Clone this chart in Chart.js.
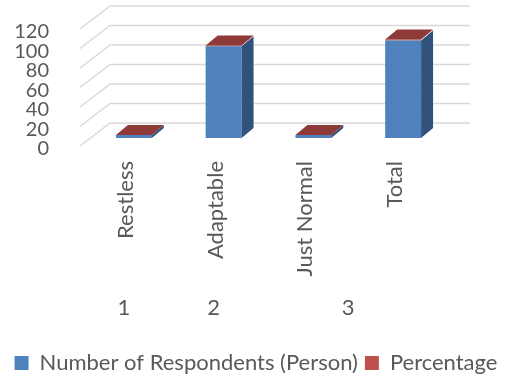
<!DOCTYPE html>
<html>
<head>
<meta charset="utf-8">
<script src="https://cdn.jsdelivr.net/npm/chart.js@4.4.0/dist/chart.umd.min.js"></script>
<style>
  html, body { margin: 0; padding: 0; background: #fff; }
  #wrap { width: 512px; height: 380px; }
</style>
</head>
<body>
<div id="wrap"><canvas id="myChart"></canvas></div>
<script>
const categories = ["Restless", "Adaptable", "Just Normal", "Total"];
const respondents = [3, 94, 3, 100];
const percentage = [0.03, 0.94, 0.03, 1];
const groupLabels = ["1", "2", "3"];
const groupPositions = [0, 1, 2.5];

const textColor = "#595959";
const fontFamily = "Lato, 'Open Sans', sans-serif";

// fake 3D: slanted grid + side/top faces of the columns
const fake3d = {
  id: "fake3d",
  beforeDatasetsDraw(chart) {
    const { ctx, chartArea, scales } = chart;
    ctx.save();
    ctx.strokeStyle = "#D9D9D9";
    ctx.lineWidth = 1.5;
    scales.y.ticks.forEach((t) => {
      const y0 = scales.y.getPixelForValue(t.value);
      ctx.beginPath();
      ctx.moveTo(chartArea.left - 9, y0 + 8);
      ctx.lineTo(chartArea.left + 21, y0 - 15);
      ctx.lineTo(chartArea.right + 22, y0 - 15);
      ctx.stroke();
    });
    ctx.restore();
  },
  afterDatasetsDraw(chart) {
    const { ctx } = chart;
    const blue = chart.getDatasetMeta(0).data;
    const red = chart.getDatasetMeta(1).data;
    const dx = 12, dy = 10;
    ctx.save();
    blue.forEach((bar, i) => {
      const top = red[i].y;
      const base = bar.base;
      const xl = bar.x - bar.width / 2;
      const xr = bar.x + bar.width / 2;
      // side face
      ctx.fillStyle = "#31527C";
      ctx.beginPath();
      ctx.moveTo(xr, bar.y);
      ctx.lineTo(xr + dx, bar.y - dy);
      ctx.lineTo(xr + dx, base - dy);
      ctx.lineTo(xr, base);
      ctx.closePath();
      ctx.fill();
      // top face
      ctx.fillStyle = "#8E3A38";
      ctx.beginPath();
      ctx.moveTo(xl, top);
      ctx.lineTo(xr, top);
      ctx.lineTo(xr + dx, top - dy);
      ctx.lineTo(xl + dx, top - dy);
      ctx.closePath();
      ctx.fill();
    });
    ctx.restore();
  },
};

new Chart(document.getElementById("myChart"), {
  type: "bar",
  data: {
    labels: categories,
    datasets: [
      {
        label: "Number of Respondents (Person)",
        data: respondents,
        backgroundColor: "#4F81BD",
        barPercentage: 0.4,
        categoryPercentage: 1,
      },
      {
        label: "Percentage",
        data: percentage,
        backgroundColor: "#C0504D",
        barPercentage: 0.4,
        categoryPercentage: 1,
      },
    ],
  },
  options: {
    responsive: true,
    maintainAspectRatio: false,
    animation: false,
    layout: { padding: { left: 0, right: 0, top: 0, bottom: -4 } },
    plugins: {
      tooltip: { enabled: false },
      legend: {
        position: "bottom",
        labels: {
          color: textColor,
          font: { family: fontFamily, size: 22 },
          boxWidth: 14,
          boxHeight: 14,
          padding: 7,
        },
      },
    },
    scales: {
      x: {
        stacked: true,
        grid: { display: false },
        border: { display: false },
        afterFit(scale) {
          scale.height = 139;
        },
        ticks: {
          color: textColor,
          font: { family: fontFamily, size: 22 },
          minRotation: 90,
          maxRotation: 90,
          autoSkip: false,
          padding: 15,
          labelOffset: -8,
        },
      },
      x2: {
        type: "linear",
        position: "bottom",
        offset: false,
        min: -0.5,
        max: 3.5,
        grid: { display: false },
        border: { display: false },
        afterBuildTicks(scale) {
          scale.ticks = groupPositions.map((v) => ({ value: v }));
        },
        afterFit(scale) {
          scale.height = 68;
        },
        ticks: {
          color: textColor,
          font: { family: fontFamily, size: 22 },
          padding: 10,
          labelOffset: -10,
          autoSkip: false,
          maxRotation: 0,
          callback: (value) => groupLabels[groupPositions.indexOf(value)],
        },
      },
      y: {
        stacked: true,
        min: 0,
        max: 120,
        grid: { display: false },
        border: { display: false },
        afterFit(scale) {
          scale.width = 89;
          scale.paddingTop = 21;
          scale.paddingBottom = 0;
        },
        ticks: {
          stepSize: 20,
          autoSkip: false,
          color: textColor,
          font: { family: fontFamily, size: 20 },
          padding: 32,
          labelOffset: 11,
        },
      },
      yRight: {
        position: "right",
        grid: { display: false },
        border: { display: false },
        ticks: { display: false },
        afterFit(scale) {
          scale.width = 64;
          scale.paddingTop = 0;
          scale.paddingBottom = 0;
        },
      },
    },
  },
  plugins: [fake3d],
});
</script>
</body>
</html>
